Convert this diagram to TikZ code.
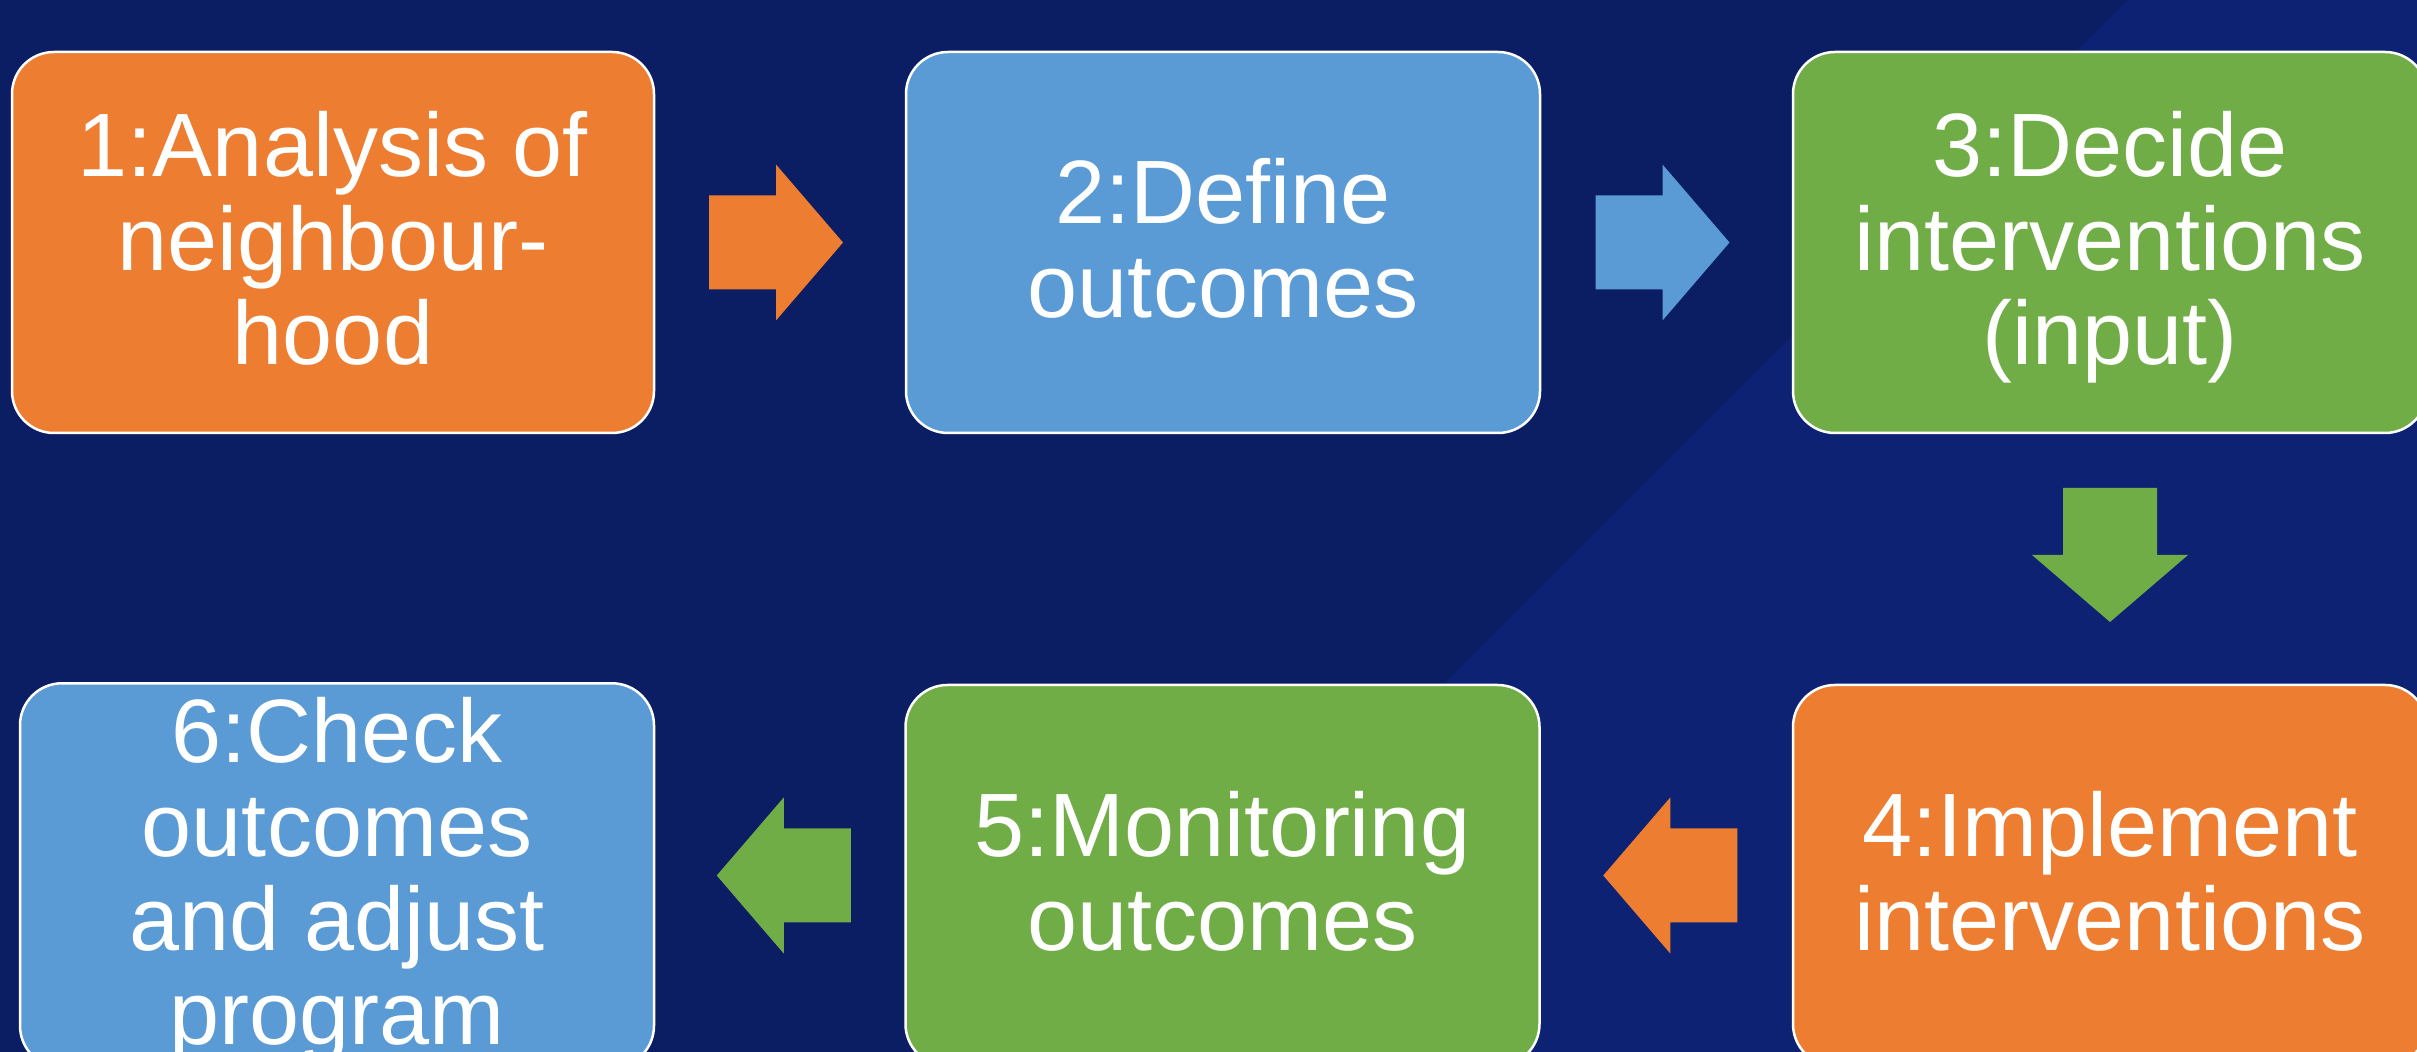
\documentclass[tikz,border=0pt]{standalone}
\usepackage{fontspec}
\setmainfont{Liberation Sans}
\usetikzlibrary{calc}

\definecolor{navy}{HTML}{0B1D63}
\definecolor{navylight}{HTML}{0D2272}
\definecolor{stepOrange}{HTML}{ED7D31}
\definecolor{stepBlue}{HTML}{5B9BD5}
\definecolor{stepGreen}{HTML}{70AD47}

% label font with fixed line pitch
\newcommand\stepfont{\fontsize{27pt}{28.2pt}\selectfont
  \lineskiplimit=-100pt\relax\lineskip=0pt\relax}
% uniform line height for centring multi-line labels
\newcommand\lnstrut{\vrule width 0pt height 0.88em depth 0.258em\relax}

\tikzset{
  stepbox/.style={
    rectangle, rounded corners=12.6pt, draw=white, line width=0.75pt,
    minimum width=190.2pt, minimum height=114.3pt, inner sep=0pt,
    text=white, align=center, font=\stepfont
  },
  pics/blockarrow/.style={
    code={
      \path[pic actions] (-71,-47) -- (-4,-47) -- (-4,-78) -- (63,0)
        -- (-4,78) -- (-4,47) -- (-71,47) -- cycle;
    }
  }
}

\begin{document}
\begin{tikzpicture}[x=0.3pt, y=-0.3pt]
  \useasboundingbox (0,0) rectangle (2417,1052);
  \clip (0,0) rectangle (2417,1052);

  % background with the lighter diagonal band
  \fill[navy] (0,0) rectangle (2417,1052);
  \fill[navylight] (2128,0) -- (2417,0) -- (2417,1052) -- (1076,1052) -- cycle;

  % process steps
  \node[stepbox, fill=stepOrange, minimum width=192.6pt] (n1) at (333,242.5)
    {\lnstrut 1:Analysis of\\neighbour-\\hood\lnstrut};
  \node[stepbox, fill=stepBlue] (n2) at (1223,242.5)
    {\lnstrut 2:Define\\outcomes\lnstrut};
  \node[stepbox, fill=stepGreen] (n3) at (2110,242.5)
    {\lnstrut 3:Decide\\interventions\\(input)\lnstrut};
  \node[stepbox, fill=stepOrange] (n4) at (2110,875.5)
    {\lnstrut 4:Implement\\interventions\lnstrut};
  \node[stepbox, fill=stepGreen] (n5) at (1222.5,875.5)
    {\lnstrut 5:Monitoring\\outcomes\lnstrut};
  \node[stepbox, fill=stepBlue] (n6) at (337,875.5)
    {\lnstrut 6:Check\\outcomes\\and adjust\\program\lnstrut};

  % block arrows between the steps
  \pic[fill=stepOrange] (a12) at ($(n1.east)!0.5!(n2.west)$) {blockarrow};
  \pic[fill=stepBlue] (a23) at ($(n2.east)!0.5!(n3.west)$) {blockarrow};
  \pic[fill=stepGreen, rotate=-90] (a34) at ($(n3.south)!0.5!(n4.north)$) {blockarrow};
  \pic[fill=stepOrange, rotate=180] (a45) at ($(n4.west)!0.5!(n5.east)$) {blockarrow};
  \pic[fill=stepGreen, rotate=180] (a56) at ($(n5.west)!0.5!(n6.east)$) {blockarrow};
\end{tikzpicture}
\end{document}
